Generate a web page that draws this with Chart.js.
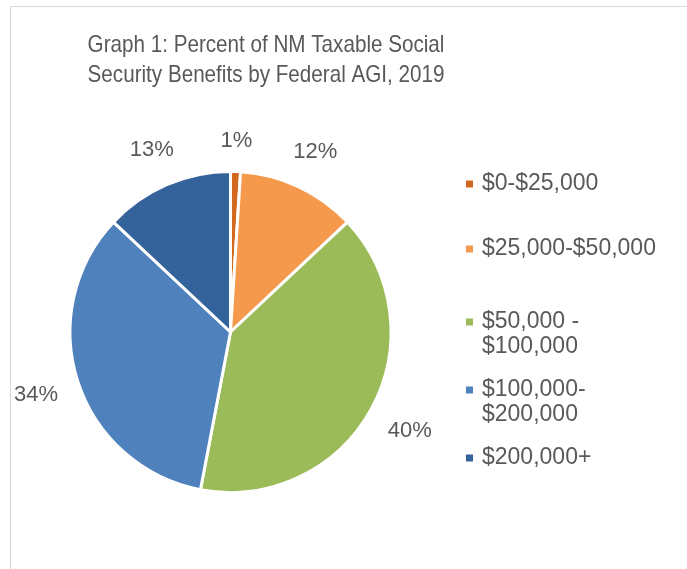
<!DOCTYPE html>
<html>
<head>
<meta charset="utf-8">
<script src="https://cdn.jsdelivr.net/npm/chart.js@4.4.1/dist/chart.umd.min.js"></script>
<style>
html,body{margin:0;padding:0;background:#fff}
canvas{display:block}
</style>
</head>
<body>
<canvas id="pie" width="687" height="569"></canvas>
<script>
const titleLines = ['Graph 1: Percent of NM Taxable Social', 'Security Benefits by Federal AGI, 2019']
const categories = ['$0-$25,000', '$25,000-$50,000', '$50,000 - $100,000', '$100,000-$200,000', '$200,000+']
const legendLines = [['$0-$25,000'], ['$25,000-$50,000'], ['$50,000 -', '$100,000'], ['$100,000-', '$200,000'], ['$200,000+']]
const shares = [1, 12, 40, 34, 13]
const colors = ['#D2691E', '#F59A4C', '#9BBB59', '#4F81BD', '#34629B']

const FONT = '"Liberation Sans", Arial, sans-serif'
const TEXT = '#595959'

const extras = {
  id:'extras',
  afterDraw(chart){
    const ctx = chart.ctx
    ctx.save()
    // frame
    ctx.strokeStyle = '#d9d9d9'; ctx.lineWidth = 1
    ctx.strokeRect(10.5, 6.5, 700, 600)
    // title (condensed a bit, like the original)
    ctx.fillStyle = TEXT; ctx.textAlign = 'center'; ctx.textBaseline = 'middle'
    ctx.font = '24px ' + FONT
    ctx.save(); ctx.translate(266, 0); ctx.scale(0.86, 1)
    titleLines.forEach((t,i)=> ctx.fillText(t, 0, 45 + i*30))
    ctx.restore()
    // percent labels outside
    ctx.font = '22px ' + FONT
    const meta = chart.getDatasetMeta(0)
    meta.data.forEach((arc,i)=>{
      const mid = (arc.startAngle + arc.endAngle)/2
      const dx = Math.cos(mid), dy = Math.sin(mid)
      const w = ctx.measureText(shares[i]+'%').width/2, h = 10
      const d = arc.outerRadius + 20 + Math.abs(dx)*w + Math.abs(dy)*h
      ctx.fillText(shares[i]+'%', arc.x + dx*d, arc.y + dy*d)
    })
    // legend
    ctx.textAlign = 'left'
    ctx.font = '23px ' + FONT
    const rows = [184, 249, 322, 390, 458]
    legendLines.forEach((lines,i)=>{
      ctx.fillStyle = colors[i]
      ctx.fillRect(466, rows[i]-3.5, 7, 7)
      ctx.fillStyle = TEXT
      lines.forEach((l,j)=> ctx.fillText(l, 482, rows[i] + j*25))
    })
    ctx.restore()
  }
}

new Chart(document.getElementById('pie'), {
  type:'pie',
  data:{ labels: categories, datasets:[{ data: shares, backgroundColor: colors, borderColor:'#fff', borderWidth:3 }] },
  options:{
    responsive:false, animation:false,
    layout:{ padding:{ left:68, right:294, top:170, bottom:75 } },
    plugins:{ legend:{ display:false }, title:{ display:false }, tooltip:{ enabled:false } }
  },
  plugins:[extras]
})
</script>
</body>
</html>
